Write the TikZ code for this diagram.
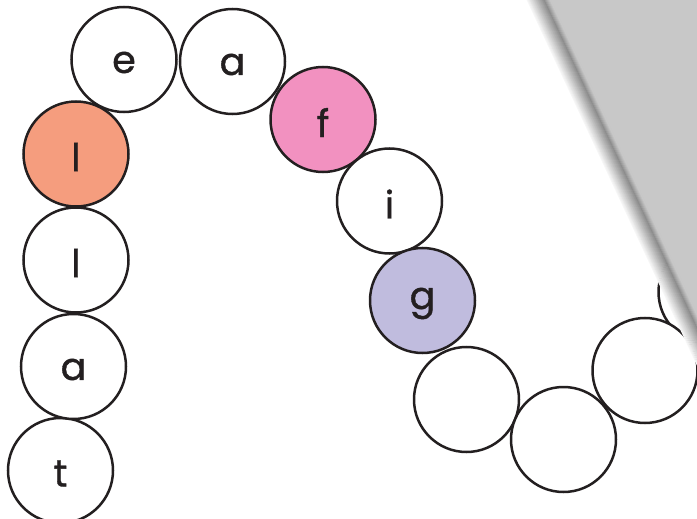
\documentclass[tikz,border=0pt]{standalone}
\usepackage{fontspec}
\setmainfont{Poppins}
\newfontfamily\beadfont[FakeBold=1]{Poppins}
\definecolor{ink}{HTML}{231F20}
\definecolor{salmon}{HTML}{F59D7E}
\definecolor{rose}{HTML}{F291C0}
\definecolor{lilac}{HTML}{C0BCDE}
\definecolor{foldgray}{HTML}{C8C8C8}
\newcommand{\letter}[1]{\raisebox{-3pt}[\height][\depth]{#1}}
\tikzset{
        bead/.style = {circle, draw=ink, line width=2.5pt, fill=white, minimum size=105pt, inner sep=0pt, text=ink, font=\beadfont\fontsize{38}{38}\selectfont},
        foldline/.style = {line width=1.3pt}
}

\begin{document}
\begin{tikzpicture}[x=1pt, y=-1pt]

        \useasboundingbox (0,0) rectangle (697,519);
        \clip (0,0) rectangle (697,519);

        % Beads
        \node[bead] (hidden) at (711,292) {};
        \node[bead] (t) at (60.5,470.5) {\letter{t}};
        \node[bead] (a1) at (73.5,366.5) {\letter{a}};
        \node[bead] (l1) at (76,260) {\letter{l}};
        \node[bead, fill=salmon] (l2) at (76,154) {\letter{l}};
        \node[bead] (e) at (124,59.5) {\letter{e}};
        \node[bead] (a2) at (232.5,61.5) {\letter{a}};
        \node[bead, fill=rose] (f) at (323,119.5) {\letter{f}};
        \node[bead] (i) at (389.5,201) {\letter{i}};
        \node[bead, fill=lilac] (g) at (422.5,300.5) {\letter{g}};
        \node[bead] (b1) at (466.5,399.5) {};
        \node[bead] (b2) at (563.5,439.5) {};
        \node[bead] (b3) at (645,370.5) {};

        % Page fold
        \fill[foldgray] (546,-5) -- (546+0.466*545,540) -- (800,540) -- (800,-5) -- cycle;
        \foreach \o in {0,...,17} {
                \pgfmathtruncatemacro\k{3+42*\o/17}
                \draw[foldline, black!\k] (525+\o,-5) -- (525+\o+0.466*545,540);
        }
        \foreach \o in {18,...,23} {
                \pgfmathtruncatemacro\k{45-23*(\o-17)/6}
                \draw[foldline, black!\k] (525+\o,-5) -- (525+\o+0.466*545,540);
        }

\end{tikzpicture}
\end{document}
